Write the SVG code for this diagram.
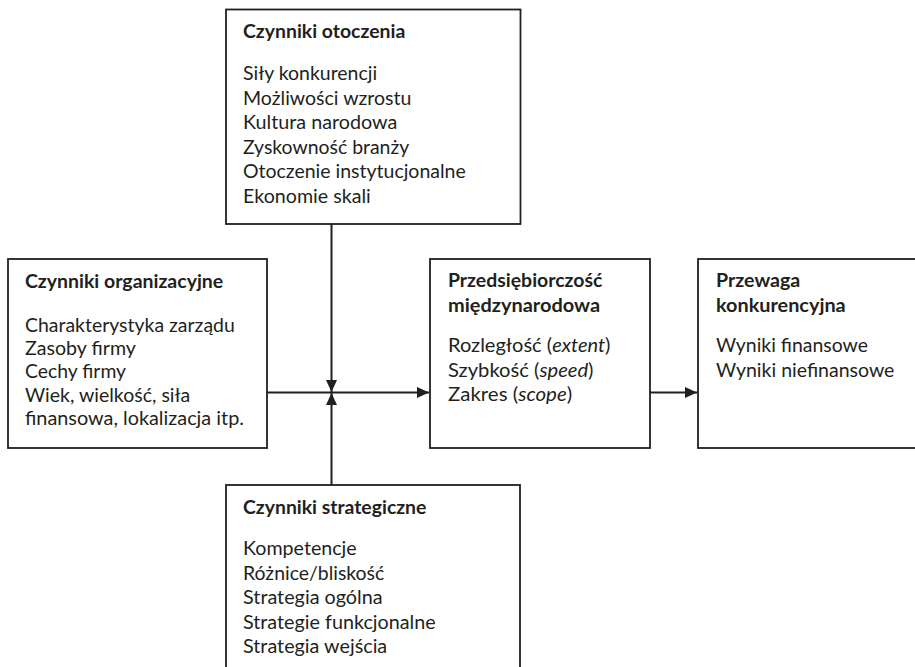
<svg xmlns="http://www.w3.org/2000/svg" width="915" height="667" viewBox="0 0 915 667">
<style>
.box{fill:#fff;stroke:#231f20;stroke-width:1.8}
.t{font-family:Lato,"Open Sans","Liberation Sans",sans-serif;font-size:19.5px;fill:#231f20}
.b{font-weight:bold}
.c{stroke:#231f20;stroke-width:2;fill:none}
</style>
<defs>
<marker id="ah" markerUnits="userSpaceOnUse" markerWidth="13" markerHeight="12" refX="12" refY="5.5" orient="auto">
<path d="M0,0 L12,5.5 L0,11 z" fill="#231f20"/>
</marker>
</defs>
<rect width="915" height="667" fill="#fff"/>
<g id="connectors">
<line class="c" x1="331.5" y1="224" x2="331.5" y2="392" marker-end="url(#ah)"/>
<line class="c" x1="331.5" y1="485" x2="331.5" y2="393" marker-end="url(#ah)"/>
<line class="c" x1="267" y1="392.5" x2="429" y2="392.5" marker-end="url(#ah)"/>
<line class="c" x1="650" y1="392.5" x2="697" y2="392.5" marker-end="url(#ah)"/>
</g>
<g id="otoczenie">
<rect class="box" x="226" y="9.5" width="294.5" height="214.5"/>
<text class="t b" x="243" y="38" textLength="162.3" lengthAdjust="spacingAndGlyphs">Czynniki otoczenia</text>
<text class="t" x="243" y="80" textLength="134.1" lengthAdjust="spacingAndGlyphs">Siły konkurencji</text>
<text class="t" x="243" y="104.6" textLength="168.4" lengthAdjust="spacingAndGlyphs">Możliwości wzrostu</text>
<text class="t" x="243" y="129.2" textLength="154.3" lengthAdjust="spacingAndGlyphs">Kultura narodowa</text>
<text class="t" x="243" y="153.8" textLength="166.2" lengthAdjust="spacingAndGlyphs">Zyskowność branży</text>
<text class="t" x="243" y="178.4" textLength="222.7" lengthAdjust="spacingAndGlyphs">Otoczenie instytucjonalne</text>
<text class="t" x="243" y="203" textLength="127.8" lengthAdjust="spacingAndGlyphs">Ekonomie skali</text>
</g>
<g id="organizacyjne">
<rect class="box" x="8" y="259" width="259" height="189"/>
<text class="t b" x="25" y="288" textLength="198.2" lengthAdjust="spacingAndGlyphs">Czynniki organizacyjne</text>
<text class="t" x="25" y="332" textLength="209.8" lengthAdjust="spacingAndGlyphs">Charakterystyka zarządu</text>
<text class="t" x="25" y="355.2" textLength="110.9" lengthAdjust="spacingAndGlyphs">Zasoby firmy</text>
<text class="t" x="25" y="378.4" textLength="101.1" lengthAdjust="spacingAndGlyphs">Cechy firmy</text>
<text class="t" x="25" y="401.6" textLength="165.2" lengthAdjust="spacingAndGlyphs">Wiek, wielkość, siła</text>
<text class="t" x="25" y="424.8" textLength="219" lengthAdjust="spacingAndGlyphs">finansowa, lokalizacja itp.</text>
</g>
<g id="przedsiebiorczosc">
<rect class="box" x="430" y="259" width="220" height="189"/>
<text class="t b" x="448" y="287" textLength="154.4" lengthAdjust="spacingAndGlyphs">Przedsiębiorczość</text>
<text class="t b" x="448" y="312" textLength="152.1" lengthAdjust="spacingAndGlyphs">międzynarodowa</text>
<text class="t" x="448" y="352" textLength="162.5" lengthAdjust="spacingAndGlyphs">Rozległość (<tspan font-style="italic">extent</tspan>)</text>
<text class="t" x="448" y="376.5" textLength="145.5" lengthAdjust="spacingAndGlyphs">Szybkość (<tspan font-style="italic">speed</tspan>)</text>
<text class="t" x="448" y="401" textLength="124.2" lengthAdjust="spacingAndGlyphs">Zakres (<tspan font-style="italic">scope</tspan>)</text>
</g>
<g id="przewaga">
<rect class="box" x="698" y="259" width="230" height="189"/>
<text class="t b" x="716" y="287" textLength="84.3" lengthAdjust="spacingAndGlyphs">Przewaga</text>
<text class="t b" x="716" y="312" textLength="129.7" lengthAdjust="spacingAndGlyphs">konkurencyjna</text>
<text class="t" x="716" y="352" textLength="151.9" lengthAdjust="spacingAndGlyphs">Wyniki finansowe</text>
<text class="t" x="716" y="376.5" textLength="178.4" lengthAdjust="spacingAndGlyphs">Wyniki niefinansowe</text>
</g>
<g id="strategiczne">
<rect class="box" x="226" y="485" width="294" height="200"/>
<text class="t b" x="243" y="514" textLength="183.4" lengthAdjust="spacingAndGlyphs">Czynniki strategiczne</text>
<text class="t" x="243" y="555" textLength="113.7" lengthAdjust="spacingAndGlyphs">Kompetencje</text>
<text class="t" x="243" y="579.6" textLength="141.3" lengthAdjust="spacingAndGlyphs">Różnice/bliskość</text>
<text class="t" x="243" y="604.2" textLength="139.6" lengthAdjust="spacingAndGlyphs">Strategia ogólna</text>
<text class="t" x="243" y="628.8" textLength="192.7" lengthAdjust="spacingAndGlyphs">Strategie funkcjonalne</text>
<text class="t" x="243" y="653.4" textLength="144.2" lengthAdjust="spacingAndGlyphs">Strategia wejścia</text>
</g>
</svg>
